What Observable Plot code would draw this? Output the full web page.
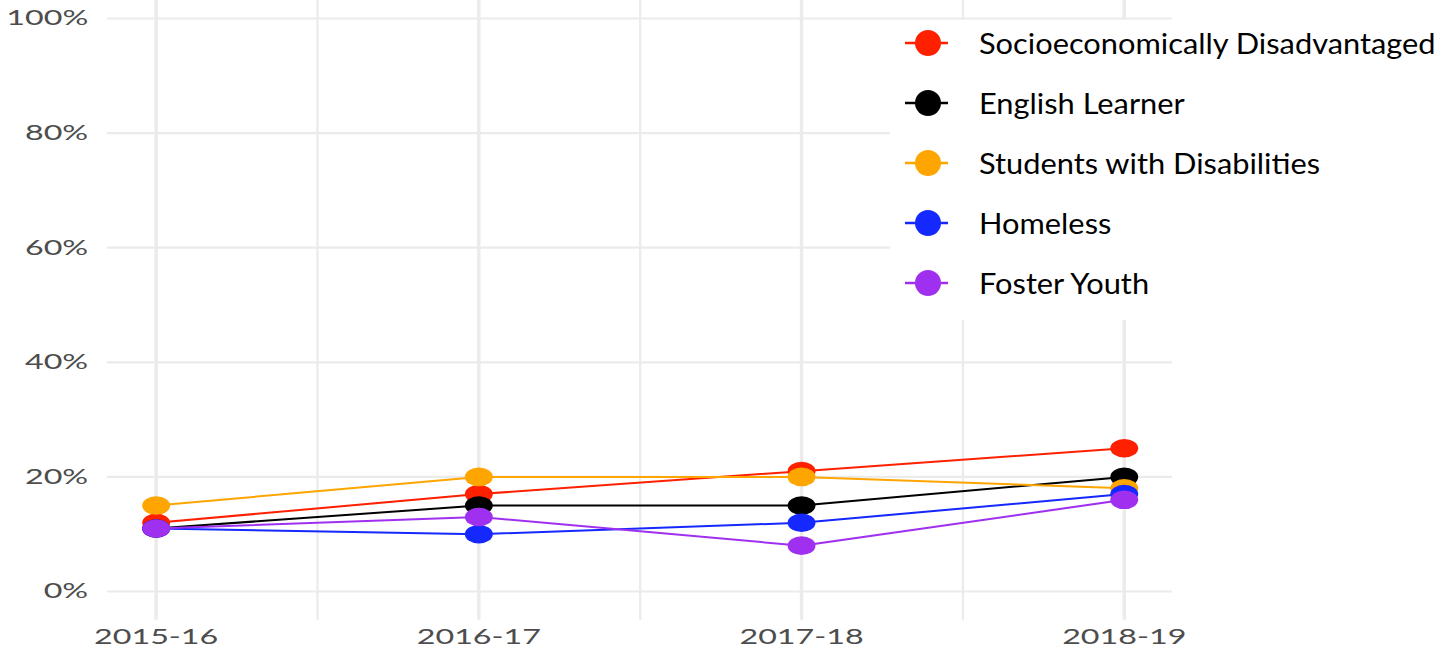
<!DOCTYPE html>
<html>
<head>
<meta charset="utf-8">
<script src="https://cdn.jsdelivr.net/npm/d3@7"></script>
<script src="https://cdn.jsdelivr.net/npm/@observablehq/plot@0.6"></script>
<style>
  html, body { margin: 0; padding: 0; background: #fff; }
  #wrap { position: relative; width: 1448px; height: 651px; overflow: hidden; }
  #legendBg { position: absolute; left: 890px; top: 20px; width: 558px; height: 300px; background: #fff; }
  #legend { position: absolute; left: 905px; top: 13px; font-family: Lato, sans-serif; font-size: 28px; color: #000; }
  .row { display: flex; align-items: center; height: 60px; }
  .row svg { flex: none; }
  .row span { margin-left: 31px; white-space: nowrap; display: inline-block; transform: scaleX(1.1); transform-origin: left center; }
</style>
</head>
<body>
<div id="wrap"></div>
<script>
const years = ["2015-16", "2016-17", "2017-18", "2018-19"];
const series = ["Socioeconomically Disadvantaged", "English Learner", "Students with Disabilities", "Homeless", "Foster Youth"];
const colors = ["#ff2000", "#000000", "#ffa500", "#1428ff", "#a030f0"];
const socio = [12, 17, 21, 25];
const englishLearner = [11, 15, 15, 20];
const disabilities = [15, 20, 20, 18];
const homeless = [11, 10, 12, 17];
const foster = [11, 13, 8, 16];
const yTicks = [0, 20, 40, 60, 80, 100];

const values = [socio, englishLearner, disabilities, homeless, foster];
const data = [];
series.forEach((s, k) => values[k].forEach((v, i) => data.push({series: s, i, year: years[i], value: v})));

const majorX = years.map((_, i) => i);
const minorX = years.slice(1).map((_, i) => i + 0.5);

const W = 965, H = 651;
const chart = Plot.plot({
  width: W,
  height: H,
  marginLeft: 71.3,
  marginRight: 184,
  marginTop: 18,
  marginBottom: 60,
  style: {fontFamily: "Lato, sans-serif", fontSize: "21.5px", color: "#4d4d4d", background: "#fff", overflow: "hidden"},
  x: {domain: [-0.15, 3.15], ticks: majorX, tickFormat: i => years[i], tickSize: 0, tickPadding: 37, label: null},
  y: {domain: [0, 100], ticks: yTicks, tickFormat: d => d + "%", tickSize: 0, tickPadding: 13, label: null},
  color: {domain: series, range: colors},
  marks: [
    Plot.ruleY(yTicks, {stroke: "#ebebeb", strokeWidth: 2.2}),
    Plot.ruleX(minorX, {y1: -5, y2: 105, stroke: "#ebebeb", strokeWidth: 1.5}),
    Plot.ruleX(majorX, {y1: -5, y2: 105, stroke: "#ebebeb", strokeWidth: 2.3}),
    Plot.line(data, {x: "i", y: "value", z: "series", stroke: "series", strokeWidth: 2}),
    Plot.dot(data, {x: "i", y: "value", fill: "series", r: 9.3, stroke: "none"})
  ]
});
chart.setAttribute("width", 1448);
chart.setAttribute("height", H);
chart.setAttribute("preserveAspectRatio", "none");
chart.style.width = "1448px";
chart.style.height = H + "px";
chart.style.display = "block";
const wrap = document.getElementById("wrap");
wrap.appendChild(chart);

const bg = document.createElement("div");
bg.id = "legendBg";
wrap.appendChild(bg);
const legend = document.createElement("div");
legend.id = "legend";
series.forEach((s, k) => {
  const row = document.createElement("div");
  row.className = "row";
  row.innerHTML = `<svg width="43" height="60"><line x1="0" x2="43" y1="30" y2="30" stroke="${colors[k]}" stroke-width="2.4"/><circle cx="23" cy="30" r="13" fill="${colors[k]}"/></svg><span>${s}</span>`;
  legend.appendChild(row);
});
wrap.appendChild(legend);
</script>
</body>
</html>
